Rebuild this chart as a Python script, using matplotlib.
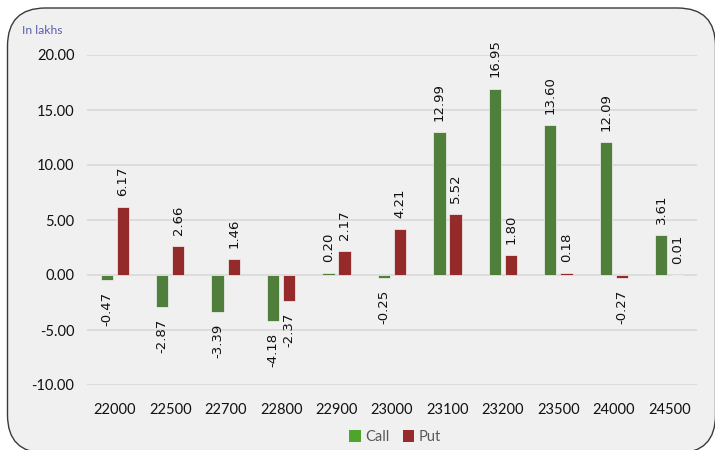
import matplotlib
matplotlib.use("Agg")
import matplotlib.pyplot as plt
import numpy as np
from matplotlib.patches import FancyBboxPatch, Patch
from matplotlib.transforms import IdentityTransform

strikes = ["22000", "22500", "22700", "22800", "22900", "23000", "23100", "23200", "23500", "24000", "24500"]
call_vals = [-0.47, -2.87, -3.39, -4.18, 0.20, -0.25, 12.99, 16.95, 13.60, 12.09, 3.61]
put_vals = [6.17, 2.66, 1.46, -2.37, 2.17, 4.21, 5.52, 1.80, 0.18, -0.27, 0.01]
yticks = [-10, -5, 0, 5, 10, 15, 20]

CALL_C = "#507f3b"
PUT_C = "#952a2b"
CALL_LEG = "#4ea52a"
PUT_LEG = "#962b2c"

fig = plt.figure(figsize=(7.15, 4.5), dpi=100)
fig.patch.set_facecolor("white")

# rounded background frame (pixel coords)
bg = FancyBboxPatch((7.5, -3), 708, 445, boxstyle="round,pad=0,rounding_size=38",
                    transform=IdentityTransform(), facecolor="#f0f0f0",
                    edgecolor="#3a3a3a", linewidth=1.0, zorder=-5)
fig.patches.append(bg)

ax = fig.add_axes([87/715, 1-385/450, (697-87)/715, (385-55)/450])
ax.set_zorder(2)
ax.set_facecolor("none")
x = np.arange(len(strikes))
w = 0.22
off = 0.145
b1 = ax.bar(x - off, call_vals, w, color=CALL_C, edgecolor="#f4f4f4", linewidth=0.5, zorder=3)
b2 = ax.bar(x + off, put_vals, w, color=PUT_C, edgecolor="#f4f4f4", linewidth=0.5, zorder=3)

for bars, vals in ((b1, call_vals), (b2, put_vals)):
    for rect, v in zip(bars, vals):
        cx = rect.get_x() + rect.get_width()/2
        if v >= 0:
            ax.annotate(f"{v:.2f}", (cx, v), xytext=(0, 8), textcoords="offset points",
                        rotation=90, ha="center", va="bottom", fontsize=9.5,
                        family="DejaVu Sans", color="#111111", annotation_clip=False)
        else:
            ax.annotate(f"{v:.2f}", (cx, v), xytext=(0, -8.5), textcoords="offset points",
                        rotation=90, ha="center", va="top", fontsize=9.5,
                        family="DejaVu Sans", color="#111111", annotation_clip=False)

ax.set_xlim(-0.5, len(strikes) - 0.5)
ax.set_ylim(-10, 20)
ax.set_yticks(yticks)
ax.set_yticklabels([f"{t:.2f}" for t in yticks], family="Lato", fontsize=10.5, color="#111111")
ax.set_xticks(x)
ax.set_xticklabels(strikes, family="Lato", fontsize=10.5, color="#111111")
ax.tick_params(axis="both", length=0)
ax.tick_params(axis="x", pad=13)
ax.tick_params(axis="y", pad=9)
ax.grid(axis="y", color="#d9d9d9", linewidth=1.2, zorder=0)
ax.set_axisbelow(True)
for s in ax.spines.values():
    s.set_visible(False)

fig.text(22/715, 1-31/450, "In lakhs", family="Lato", fontsize=8.7, color="#5a5fae",
         ha="left", va="center")

handles = [Patch(facecolor=CALL_LEG, label="Call"), Patch(facecolor=PUT_LEG, label="Put")]
leg = fig.legend(handles=handles, loc="center", bbox_to_anchor=(395/715, 1-437/450),
                 ncol=2, frameon=False, prop={"family": "Lato", "size": 10.5},
                 handlelength=0.8, handleheight=0.8, handletextpad=0.3, columnspacing=0.9)
for t in leg.get_texts():
    t.set_color("#595959")

fig.savefig("out.png", dpi=100, facecolor="white")
